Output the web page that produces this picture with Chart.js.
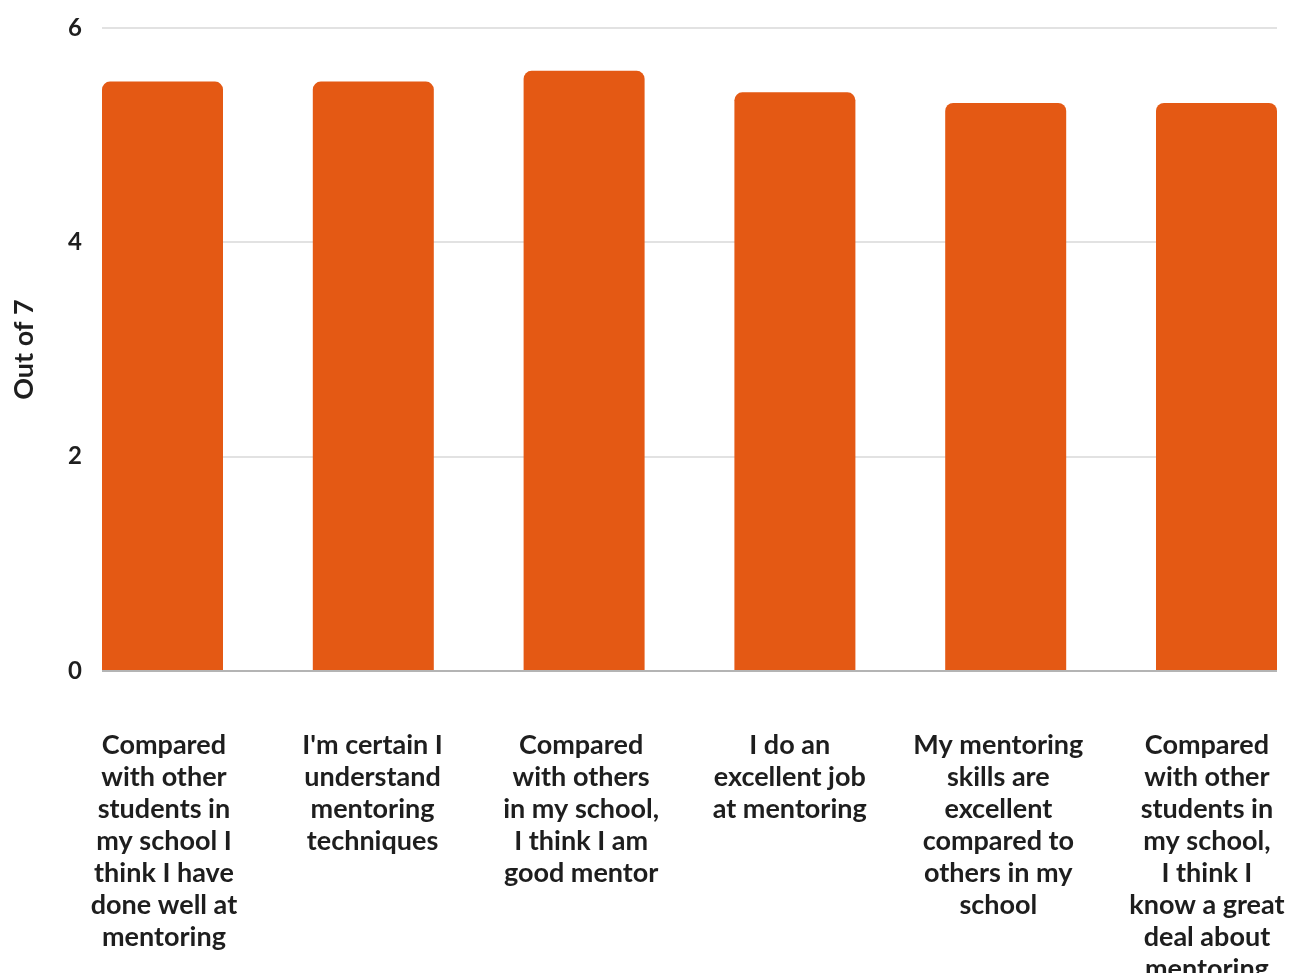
<!DOCTYPE html>
<html>
<head>
<meta charset="utf-8">
<script src="https://cdn.jsdelivr.net/npm/chart.js@4"></script>
<style>
  html, body { margin: 0; padding: 0; background: #fff; }
  #wrap { width: 1289px; height: 973px; }
</style>
</head>
<body>
<div id="wrap"><canvas id="mentorChart"></canvas></div>
<script>
// survey statements and mean scores (out of 7)
const statements = [
    ['Compared', 'with other', 'students in', 'my school I', 'think I have', 'done well at', 'mentoring'],
    ["I'm certain I", 'understand', 'mentoring', 'techniques'],
    ['Compared', 'with others', 'in my school,', 'I think I am', 'good mentor'],
    ['I do an', 'excellent job', 'at mentoring'],
    ['My mentoring', 'skills are', 'excellent', 'compared to', 'others in my', 'school'],
    ['Compared', 'with other', 'students in', 'my school,', 'I think I', 'know a great', 'deal about', 'mentoring']
];
const scores = [5.5, 5.5, 5.6, 5.4, 5.3, 5.3];
const yTicks = [0, 2, 4, 6];

const barColor = '#e45914';
const textColor = '#1e1e1e';

Chart.defaults.font.family = 'Lato, "Open Sans", sans-serif';
Chart.defaults.font.weight = 'bold';
Chart.defaults.color = textColor;

const ctx = document.getElementById('mentorChart').getContext('2d');
const mentorChart = new Chart(ctx, {
    type: 'bar',
    data: {
        datasets: [{
            label: 'Out of 7',
            data: scores.map((v, i) => ({ x: i, y: v })),
            xAxisID: 'x',
            backgroundColor: barColor,
            borderRadius: 8,
            borderSkipped: 'start',
            categoryPercentage: 1,
            barPercentage: 0.574
        }]
    },
    options: {
        responsive: true,
        maintainAspectRatio: false,
        animation: false,
        layout: { padding: { top: 28, right: 12, left: 0, bottom: 0 } },
        plugins: {
            legend: { display: false },
            tooltip: { enabled: false }
        },
        scales: {
            // bar positions
            x: {
                type: 'linear',
                display: false,
                offset: false,
                min: -0.287,
                max: scores.length - 1 + 0.287,
                afterBuildTicks: function (scale) {
                    scale.ticks = statements.map((s, i) => ({ value: i }));
                }
            },
            // statement labels, spread a bit tighter than the bars
            xLabels: {
                type: 'linear',
                position: 'bottom',
                offset: false,
                min: -0.297,
                max: scores.length - 1 + 0.336,
                grid: { display: false },
                border: { display: false },
                afterBuildTicks: function (scale) {
                    scale.ticks = statements.map((s, i) => ({ value: i }));
                },
                afterFit: function (scale) {
                    scale.height = 302;
                    scale.paddingLeft = 0;
                    scale.paddingRight = 0;
                },
                ticks: {
                    autoSkip: false,
                    maxRotation: 0,
                    padding: 50,
                    font: { size: 27, weight: 'bold', lineHeight: 1.185 },
                    color: textColor,
                    callback: function (value) {
                        return statements[value];
                    }
                }
            },
            y: {
                min: 0,
                max: 6,
                afterBuildTicks: function (scale) {
                    scale.ticks = yTicks.map(v => ({ value: v }));
                },
                afterFit: function (scale) {
                    scale.width = 102;
                    scale.paddingTop = 0;
                    scale.paddingBottom = 0;
                },
                border: { display: false },
                grid: {
                    lineWidth: 2,
                    drawTicks: false,
                    color: function (c) {
                        return c.tick && c.tick.value === 0 ? '#b4b4b4' : '#e2e2e2';
                    }
                },
                ticks: {
                    padding: 20,
                    font: { size: 24, weight: 'bold' },
                    color: textColor
                },
                title: {
                    display: true,
                    text: 'Out of 7',
                    font: { size: 27, weight: 'bold' },
                    color: textColor,
                    padding: { top: 8, bottom: 0 }
                }
            }
        }
    }
});
</script>
</body>
</html>
